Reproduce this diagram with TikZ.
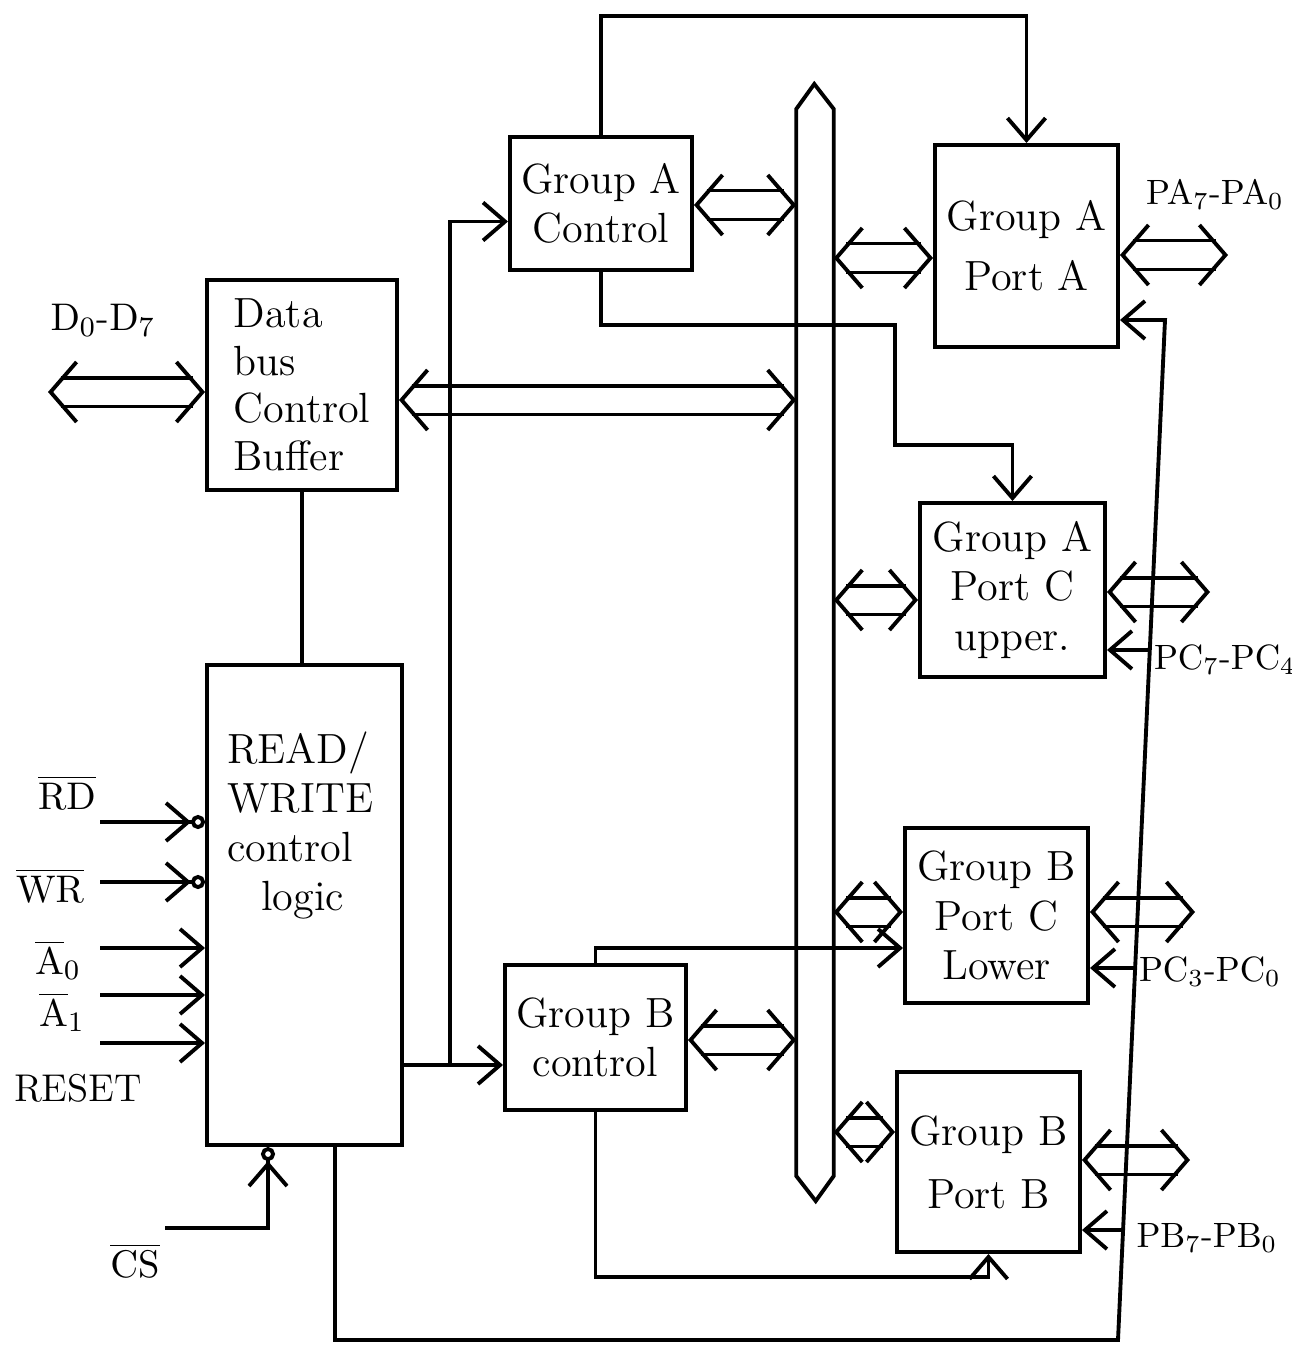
\documentclass[tikz,border=0pt]{standalone}
\usepackage{amsmath}
\usepackage{tikz}
\usetikzlibrary{arrows.meta, calc}
\tikzset{
  blk/.style  = {draw, line width=1.1pt, align=center, inner sep=2pt,
                 font=\fontsize{12}{14}\selectfont},
  lbl/.style  = {font=\fontsize{11}{13}\selectfont, inner sep=1pt},
  plbl/.style = {font=\fontsize{10}{12}\selectfont, inner sep=1pt},
  ln/.style   = {line width=1.1pt},
  fl/.style   = {-{Straight Barb[length=2.2mm, width=3.8mm]}, line width=1.1pt},
  fln/.style  = {-{Straight Barb[length=2.2mm, width=3.8mm] Circle[open, length=1.4mm]},
                 line width=1.1pt},
  dbus/.style = {draw=white, line width=1.1pt,
                 {Straight Barb[color=black, length=2.6mm, width=6mm]}-{Straight Barb[color=black, length=2.6mm, width=6mm]},
                 preaction={draw=black, -, double=white, double distance=2.5mm,
                            line width=1.1pt, shorten <=1.25mm, shorten >=1.25mm}},
}

\begin{document}
\begin{tikzpicture}[x=0.01cm, y=-0.01cm]
  \useasboundingbox (0,0) rectangle (1292,1348);
  % blocks
  \node[blk, minimum width=1.9cm, minimum height=2.1cm, align=left,
        font=\fontsize{12}{13.5}\selectfont] (dbb) at (302,385)
        {Data\\bus\\Control\\Buffer};
  \node[blk, minimum width=1.95cm, minimum height=4.8cm,
        label={[anchor=north west, align=left, xshift=1mm, yshift=-5.6mm,
                font=\fontsize{12}{14}\selectfont]north west:READ/\\WRITE\\control\\\hspace{0.8em}logic}]
        (rwc) at (304.5,905) {};
  \node[blk, minimum width=1.82cm, minimum height=1.33cm] (gac) at (601,203.5) {Group A\\Control};
  \node[blk, minimum width=1.81cm, minimum height=1.45cm] (gbc) at (595.5,1037.5) {Group B\\control};
  \node[blk, minimum width=1.83cm, minimum height=2.02cm,
        font=\fontsize{12}{17}\selectfont] (pa) at (1026.5,246) {Group A\\Port A};
  \node[blk, minimum width=1.85cm, minimum height=1.74cm] (pcu) at (1012.5,590) {Group A\\Port C\\upper.};
  \node[blk, minimum width=1.83cm, minimum height=1.75cm] (pcl) at (996.5,915.5) {Group B\\Port C\\Lower};
  \node[blk, minimum width=1.83cm, minimum height=1.80cm,
        font=\fontsize{12}{18}\selectfont] (pb) at (988.5,1162) {Group B\\Port B};

  % internal bus
  \node[inner sep=0pt, minimum width=0.36cm, minimum height=10.65cm] (bus) at (815,642.5) {};
  \draw[ln] (bus.south west) -- (bus.north west) -- ++(18,-25) -- (bus.north east)
            -- (bus.south east) -- ++(-18,25) -- cycle;

  % signal labels
  \node[lbl] at (103,320) {$\mathrm{D}_0$-$\mathrm{D}_7$};
  \node[lbl] at (67,792) {$\overline{\mathrm{RD}}$};
  \node[lbl] at (50,885) {$\overline{\mathrm{WR}}$};
  \node[lbl] at (58,960) {$\overline{\mathrm{A}}_0$};
  \node[lbl] at (62,1012) {$\overline{\mathrm{A}}_1$};
  \node[lbl] at (78,1088) {RESET};
  \node[lbl] at (135,1260) {$\overline{\mathrm{CS}}$};
  \node[plbl] at (1215,195) {$\mathrm{PA}_7$-$\mathrm{PA}_0$};
  \node[plbl] at (1225,660) {$\mathrm{PC}_7$-$\mathrm{PC}_4$};
  \node[plbl] at (1210,972) {$\mathrm{PC}_3$-$\mathrm{PC}_0$};
  \node[plbl] at (1207,1238) {$\mathrm{PB}_7$-$\mathrm{PB}_0$};

  % free ends and junctions
  \coordinate (d07) at (48,392);
  \coordinate (rdin) at (100,822);
  \coordinate (wrin) at (100,882);
  \coordinate (a0in) at (100,948);
  \coordinate (a1in) at (100,995);
  \coordinate (rstin) at (100,1043);
  \coordinate (csin) at (165,1228);
  \coordinate (paout) at (1228,255);
  \coordinate (pcuout) at (1210,592);
  \coordinate (pclout) at (1195,912);
  \coordinate (pbout) at (1190,1160);
  \coordinate (jn) at (450,1065);
  \coordinate (rb) at (1118,1340);
  \coordinate (rt) at (1165,320);
  \coordinate (jc1) at ($(rb)!0.6765!(rt)$);
  \coordinate (jc2) at ($(rb)!0.3647!(rt)$);
  \coordinate (jc3) at ($(rb)!0.1078!(rt)$);

  % wide data paths
  \draw[dbus] (d07) -- (dbb.west |- d07);
  \draw[dbus] (dbb.east |- 0,400) -- (bus.west |- 0,400);
  \draw[dbus] (gac.east |- 0,205) -- (bus.west |- 0,205);
  \draw[dbus] (gbc.east |- 0,1040) -- (bus.west |- 0,1040);
  \draw[dbus] (bus.east |- 0,258) -- (pa.west |- 0,258);
  \draw[dbus] (bus.east |- 0,600) -- (pcu.west |- 0,600);
  \draw[dbus] (bus.east |- 0,912) -- (pcl.west |- 0,912);
  \draw[dbus] (bus.east |- 0,1132) -- (pb.west |- 0,1132);
  \draw[dbus] (pa.east |- paout) -- (paout);
  \draw[dbus] (pcu.east |- pcuout) -- (pcuout);
  \draw[dbus] (pcl.east |- pclout) -- (pclout);
  \draw[dbus] (pb.east |- pbout) -- (pbout);

  % control inputs
  \draw[fln] (rdin) -- (rwc.west |- rdin);
  \draw[fln] (wrin) -- (rwc.west |- wrin);
  \draw[fl] (a0in) -- (rwc.west |- a0in);
  \draw[fl] (a1in) -- (rwc.west |- a1in);
  \draw[fl] (rstin) -- (rwc.west |- rstin);
  \draw[fln] (csin) -| (rwc.south -| 268,0);

  % control lines
  \draw[ln] (dbb.south) -- (dbb.south |- rwc.north);
  \draw[fl] (rwc.east |- jn) -- (gbc.west |- jn);
  \draw[fl] (jn) |- ($(gac.west)+(0,18)$);
  \draw[fl] (gac.north) -- ++(0,-119) -| (pa.north);
  \draw[fl] (gac.south) |- (895,325) |- (pcu.north |- 0,445) -- (pcu.north);
  \draw[fl] (gbc.north) |- (pcl.west |- 0,948);
  \draw[fl] (gbc.south) -- ++(0,165) -| (pb.south);
  \draw[fl] (rwc.south -| 335,0) |- (rb) -- (rt) -- (pa.east |- rt);
  \draw[fl] (jc1) -- (pcu.east |- jc1);
  \draw[fl] (jc2) -- (pcl.east |- jc2);
  \draw[fl] (jc3) -- (pb.east |- jc3);
\end{tikzpicture}
\end{document}
